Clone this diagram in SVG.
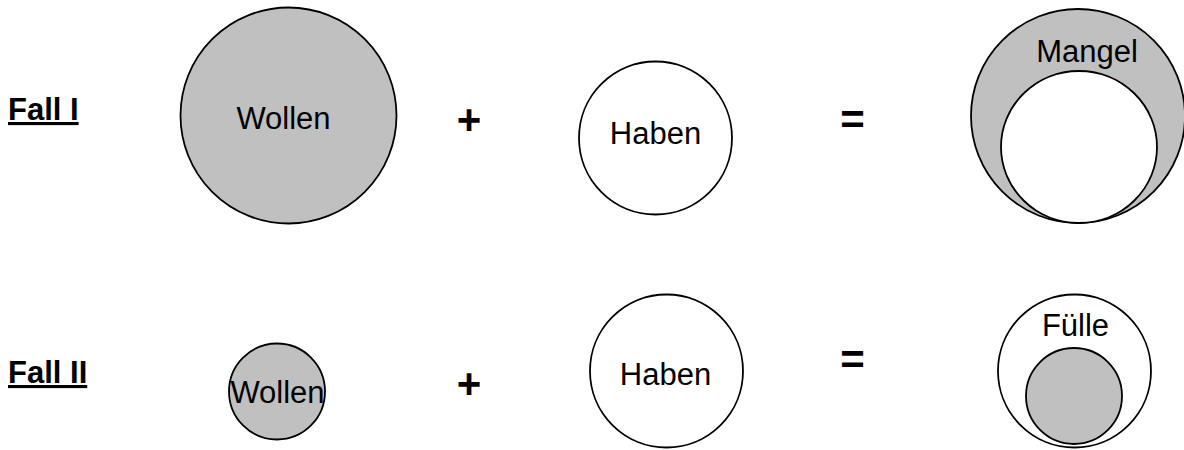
<svg xmlns="http://www.w3.org/2000/svg" width="1184" height="450" viewBox="0 0 1184 450">
<style>
  .c { stroke: #000; stroke-width: 1.8; }
  .g { fill: #c0c0c0; }
  .w { fill: #fff; }
  .t { font-family: "Liberation Sans", Arial, sans-serif; font-size: 31px; fill: #000; text-anchor: middle; }
  .h { font-family: "Liberation Sans", Arial, sans-serif; font-size: 31px; font-weight: bold; fill: #000; text-decoration: underline; }
  .op { font-family: "Liberation Sans", Arial, sans-serif; font-size: 42px; font-weight: bold; fill: #000; text-anchor: middle; }
</style>
<rect width="1184" height="450" fill="#fff"/>
<g id="fall1-label"><text class="h" x="8" y="120">Fall I</text></g>
<g id="fall1-wollen">
  <circle class="c g" cx="288.5" cy="115.5" r="108"/>
  <text class="t" x="283.5" y="129">Wollen</text>
</g>
<g id="fall1-plus"><text class="op" x="469" y="134">+</text></g>
<g id="fall1-haben">
  <circle class="c w" cx="655.5" cy="138" r="76.5"/>
  <text class="t" x="655.5" y="144">Haben</text>
</g>
<g id="fall1-equals"><text class="op" x="852.5" y="134">=</text></g>
<g id="fall1-mangel">
  <circle class="c g" cx="1078" cy="116" r="107"/>
  <ellipse class="c w" cx="1079" cy="147" rx="78" ry="76"/>
  <text class="t" x="1087" y="62">Mangel</text>
</g>
<g id="fall2-label"><text class="h" x="8" y="383">Fall II</text></g>
<g id="fall2-wollen">
  <circle class="c g" cx="277" cy="391.5" r="48"/>
  <text class="t" x="277.5" y="403">Wollen</text>
</g>
<g id="fall2-plus"><text class="op" x="469" y="398">+</text></g>
<g id="fall2-haben">
  <circle class="c w" cx="666.5" cy="371" r="76.5"/>
  <text class="t" x="665.5" y="385">Haben</text>
</g>
<g id="fall2-equals"><text class="op" x="852.5" y="374">=</text></g>
<g id="fall2-fuelle">
  <circle class="c w" cx="1074.5" cy="371" r="76.5"/>
  <circle class="c g" cx="1074" cy="396" r="48"/>
  <text class="t" x="1075.5" y="336">Fülle</text>
</g>
<g id="connectors"></g>
</svg>
